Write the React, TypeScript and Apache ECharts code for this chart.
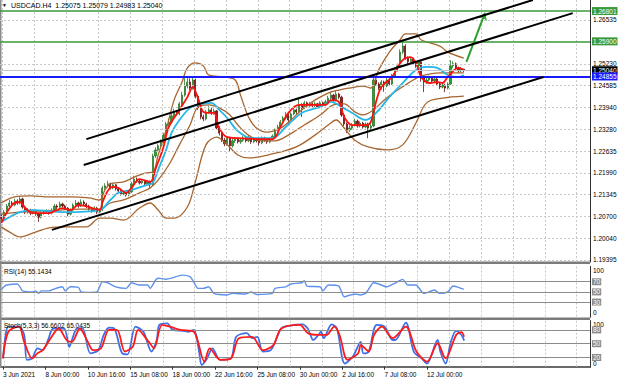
import React, { useEffect, useRef } from "react";
import * as echarts from "echarts";

const FONT = "Liberation Sans";
const SLOTS = 222;
const tickLabels = ["3 Jun 2021", "8 Jun 00:00", "10 Jun 16:00", "15 Jun 08:00", "18 Jun 00:00", "22 Jun 16:00", "25 Jun 08:00", "30 Jun 00:00", "2 Jul 16:00", "7 Jul 08:00", "12 Jul 00:00"];

const firstOpen = 1.207;
const closes = [
  1.2064, 1.2082, 1.21, 1.2109, 1.2103, 1.2115, 1.2109, 1.2121, 1.2097, 1.2082,
  1.2088, 1.2079, 1.2085, 1.2076, 1.2067, 1.2079, 1.2082, 1.2085, 1.2079, 1.2088,
  1.21, 1.2097, 1.2106, 1.21, 1.2094, 1.2076, 1.2088, 1.2103, 1.2109, 1.21,
  1.2112, 1.2106, 1.21, 1.2091, 1.2085, 1.2094, 1.2082, 1.2088, 1.2154, 1.216,
  1.2166, 1.2154, 1.2163, 1.2151, 1.2145, 1.2136, 1.2139, 1.2133, 1.2142, 1.2166,
  1.218, 1.2174, 1.2169, 1.2174, 1.2166, 1.2172, 1.2163, 1.2249, 1.2267, 1.2279,
  1.2291, 1.2311, 1.2344, 1.235, 1.2368, 1.238, 1.2374, 1.2404, 1.243, 1.2457,
  1.2469, 1.2451, 1.2475, 1.2427, 1.2392, 1.2365, 1.2359, 1.238, 1.2386, 1.2377,
  1.2383, 1.2332, 1.2317, 1.2296, 1.2285, 1.2302, 1.2279, 1.2294, 1.2299, 1.2291,
  1.2296, 1.2302, 1.2294, 1.2305, 1.2291, 1.2299, 1.2294, 1.2288, 1.2302, 1.2296,
  1.2291, 1.2299, 1.2308, 1.2326, 1.2335, 1.235, 1.2362, 1.2371, 1.2356, 1.2374,
  1.2386, 1.238, 1.2401, 1.2392, 1.2407, 1.2398, 1.2404, 1.2398, 1.2404, 1.2395,
  1.2407, 1.2401, 1.241, 1.2421, 1.243, 1.2415, 1.2433, 1.2424, 1.2371, 1.2344,
  1.2326, 1.2332, 1.2341, 1.2353, 1.2338, 1.2347, 1.2335, 1.2344, 1.2332, 1.2338,
  1.2475, 1.2463, 1.2451, 1.2469, 1.2457, 1.2475, 1.2463, 1.2487, 1.2505, 1.2517,
  1.2558, 1.2576, 1.254, 1.2529, 1.2537, 1.2526, 1.2517, 1.2529, 1.2481, 1.2469,
  1.2475, 1.2481, 1.2472, 1.2478, 1.2463, 1.2454, 1.246, 1.2451, 1.2463, 1.2517,
  1.2523, 1.2511, 1.2502, 1.25075, 1.2504,
];
const highs = [
  1.2076, 1.2088, 1.2106, 1.2118, 1.2115, 1.2122, 1.212, 1.2128, 1.2125, 1.2101,
  1.2094, 1.2092, 1.209, 1.2089, 1.208, 1.2084, 1.2088, 1.2091, 1.2089, 1.2093,
  1.2106, 1.2105, 1.2113, 1.211, 1.2104, 1.2097, 1.2093, 1.2108, 1.2118, 1.2113,
  1.212, 1.2117, 1.211, 1.2104, 1.2096, 1.2099, 1.2098, 1.2093, 1.216, 1.2168,
  1.2175, 1.217, 1.2169, 1.2166, 1.2155, 1.2149, 1.2145, 1.2143, 1.2147, 1.2172,
  1.219, 1.2185, 1.2178, 1.218, 1.2178, 1.2177, 1.2176, 1.2256, 1.2275, 1.2286,
  1.2298, 1.2318, 1.235, 1.236, 1.2376, 1.2389, 1.2386, 1.241, 1.244, 1.2484,
  1.2487, 1.248, 1.2486, 1.2479, 1.2432, 1.2396, 1.2372, 1.2386, 1.2398, 1.2393,
  1.239, 1.2386, 1.2338, 1.2322, 1.2303, 1.2308, 1.2306, 1.23, 1.2305, 1.2304,
  1.2302, 1.2308, 1.2306, 1.2311, 1.2309, 1.2304, 1.2303, 1.2298, 1.2307, 1.2306,
  1.23, 1.2304, 1.2313, 1.2331, 1.2342, 1.2356, 1.2368, 1.238, 1.2375, 1.2379,
  1.2394, 1.239, 1.242, 1.2406, 1.2413, 1.2411, 1.241, 1.2408, 1.241, 1.2407,
  1.2412, 1.2411, 1.2416, 1.2428, 1.244, 1.2434, 1.2443, 1.2437, 1.2428, 1.2376,
  1.2349, 1.234, 1.2347, 1.236, 1.2357, 1.2352, 1.2351, 1.2349, 1.2348, 1.2345,
  1.2482, 1.248, 1.2468, 1.2475, 1.2473, 1.2481, 1.248, 1.2493, 1.2512, 1.2524,
  1.2566, 1.2588, 1.2581, 1.2545, 1.2543, 1.2541, 1.253, 1.2534, 1.2532, 1.2486,
  1.2482, 1.2488, 1.2485, 1.2484, 1.2482, 1.2467, 1.2465, 1.2464, 1.2468, 1.2534,
  1.2531, 1.2527, 1.2515, 1.2513, 1.25079,
];
const lows = [
  1.2055, 1.206, 1.2078, 1.2095, 1.2097, 1.2099, 1.2104, 1.2105, 1.2092, 1.2076,
  1.2077, 1.2073, 1.2075, 1.2071, 1.2053, 1.2063, 1.2074, 1.2078, 1.2074, 1.2075,
  1.2085, 1.2091, 1.2093, 1.2096, 1.2089, 1.207, 1.2072, 1.2085, 1.2099, 1.2095,
  1.2097, 1.2101, 1.2094, 1.2086, 1.208, 1.2081, 1.2076, 1.2078, 1.2085, 1.2148,
  1.2155, 1.2149, 1.215, 1.2146, 1.214, 1.2131, 1.2132, 1.2128, 1.2129, 1.2139,
  1.2162, 1.2169, 1.2164, 1.2165, 1.2161, 1.2162, 1.2155, 1.216, 1.2243, 1.226,
  1.2272, 1.2286, 1.2306, 1.2338, 1.2344, 1.2362, 1.2368, 1.237, 1.2398, 1.2425,
  1.245, 1.2445, 1.2446, 1.242, 1.2386, 1.2358, 1.2352, 1.2355, 1.2375, 1.2371,
  1.2372, 1.2326, 1.231, 1.229, 1.2278, 1.228, 1.2262, 1.2274, 1.2288, 1.2286,
  1.2285, 1.2291, 1.2289, 1.229, 1.2285, 1.2287, 1.2289, 1.228, 1.2284, 1.2291,
  1.2285, 1.2287, 1.2295, 1.2304, 1.2321, 1.2331, 1.2345, 1.2357, 1.234, 1.2352,
  1.237, 1.2374, 1.2377, 1.2365, 1.2388, 1.2393, 1.2393, 1.2392, 1.2394, 1.239,
  1.2391, 1.2396, 1.2397, 1.2406, 1.2416, 1.241, 1.2411, 1.2418, 1.2365, 1.2338,
  1.2317, 1.232, 1.2327, 1.2337, 1.2333, 1.2334, 1.233, 1.2331, 1.2302, 1.2325,
  1.2335, 1.2458, 1.2445, 1.2446, 1.244, 1.2453, 1.2457, 1.246, 1.2482, 1.25,
  1.2513, 1.2552, 1.2535, 1.2523, 1.2525, 1.252, 1.2511, 1.2513, 1.247, 1.2439,
  1.2463, 1.247, 1.2467, 1.2468, 1.2457, 1.2448, 1.245, 1.2439, 1.2447, 1.246,
  1.251, 1.2505, 1.2496, 1.2498, 1.24983,
];

const bbUpper = [[0,1.2109],[5,1.2127],[11,1.213],[18,1.2127],[26,1.2127],[33,1.2124],[37,1.2118],[39,1.2148],[41,1.2166],[46,1.2172],[50,1.2186],[54,1.2198],[57,1.2201],[59,1.2252],[62,1.2326],[65,1.2415],[68,1.2469],[70,1.2511],[73,1.2526],[76,1.2517],[78,1.249],[84,1.2484],[88,1.2475],[90,1.243],[93,1.2365],[96,1.2332],[100,1.232],[105,1.2332],[109,1.2356],[113,1.2386],[118,1.2415],[123,1.2436],[127,1.2445],[131,1.2451],[136,1.2457],[139,1.2451],[142,1.2505],[146,1.2558],[150,1.2594],[152,1.2612],[156,1.2612],[158,1.2594],[165,1.2576],[168,1.2558],[174,1.254]];
const bbMiddle = [[0,1.2076],[7,1.2082],[14,1.2085],[22,1.2088],[29,1.2091],[37,1.2091],[41,1.2109],[46,1.2118],[52,1.2139],[56,1.2154],[59,1.2177],[63,1.2222],[67,1.2282],[71,1.2341],[74,1.2395],[78,1.2401],[82,1.2392],[86,1.2371],[89,1.2341],[93,1.2311],[98,1.2294],[103,1.2294],[108,1.2311],[114,1.2341],[120,1.2371],[125,1.2401],[129,1.2404],[133,1.238],[136,1.2371],[140,1.2386],[144,1.2415],[148,1.2439],[152,1.246],[155,1.2475],[158,1.2487],[165,1.2496],[170,1.2496],[174,1.2496]];
const bbLower = [[0,1.2038],[3,1.2023],[7,1.2008],[12,1.202],[18,1.2035],[24,1.2038],[32,1.2038],[37,1.2064],[41,1.2064],[46,1.2058],[52,1.2094],[56,1.2109],[59,1.2088],[62,1.2064],[65,1.2064],[70,1.2097],[73,1.2172],[77,1.2282],[81,1.2305],[85,1.2282],[89,1.2252],[93,1.2243],[102,1.2255],[111,1.2276],[118,1.2311],[123,1.2341],[126,1.2356],[129,1.2332],[133,1.2296],[138,1.2276],[145,1.2267],[151,1.2282],[156,1.2347],[160,1.2407],[166,1.2421],[174,1.2427]];
const fastMA = [[0,1.205],[4,1.2103],[7,1.2112],[9,1.2094],[12,1.2079],[18,1.2079],[23,1.2094],[26,1.2088],[29,1.2103],[33,1.2097],[37,1.2088],[38,1.211],[40,1.2145],[42,1.2157],[44,1.2154],[47,1.2139],[49,1.2154],[52,1.218],[56,1.2172],[58,1.221],[61,1.2275],[63,1.2335],[67,1.2386],[70,1.2424],[72,1.2454],[74,1.2421],[76,1.238],[78,1.2377],[80,1.2377],[82,1.2332],[85,1.2305],[89,1.2302],[102,1.2299],[105,1.2335],[108,1.2377],[112,1.2401],[122,1.2401],[124,1.2415],[127,1.241],[129,1.2365],[132,1.2341],[137,1.2341],[139,1.235],[141,1.241],[143,1.2454],[147,1.2484],[151,1.2534],[154,1.2543],[156,1.2526],[158,1.2484],[161,1.2466],[164,1.2469],[166,1.2466],[168,1.2484],[172,1.2511],[174,1.2505]];
const slowMA = [[0,1.2053],[7,1.2082],[12,1.2088],[24,1.2082],[37,1.2088],[41,1.2118],[44,1.2139],[49,1.2148],[55,1.2163],[57,1.2169],[59,1.2207],[62,1.2267],[64,1.2317],[67,1.2356],[71,1.2392],[74,1.2401],[79,1.2407],[82,1.2386],[85,1.2362],[89,1.2323],[94,1.2302],[102,1.2302],[107,1.2335],[113,1.2377],[120,1.2395],[124,1.241],[128,1.2395],[132,1.2377],[137,1.2356],[141,1.2377],[146,1.2424],[151,1.2466],[156,1.2505],[160,1.2514],[164,1.2511],[168,1.249],[172,1.2484],[174,1.249]];

const channelUpper = [[32,1.2299],[200,1.2713]];
const channelMiddle = [[31,1.2222],[215,1.2674]];
const channelLower = [[19,1.2029],[204,1.2484]];
const arrowPath = [[175,1.2529],[182,1.2675]];

const priceTicks = [1.26535, 1.2523, 1.24585, 1.2394, 1.2328, 1.22635, 1.2199, 1.21345, 1.207, 1.2004, 1.19395];
const resistanceLevels = [1.26801, 1.259];
const supportLevel = 1.24855;
const bidPrice = 1.2504;
const title = "USDCAD.H4  1.25075 1.25079 1.24983 1.25040";

const rsiValues = [[0,54],[1,60],[2,63.5],[6,65.5],[7,60],[8,52],[12,50],[13,52],[14,47],[15,52],[18,52],[19,54],[23,60],[24,52],[26,60],[29,59],[30,50],[32,49],[36,50],[38,70],[40,68],[43,60],[47,57],[49,68],[52,63.5],[55,63.5],[56,57],[58,73],[59,77],[62,75],[64,77],[68,83],[71,80],[72,73],[74,57],[76,57],[78,60],[80,47],[85,44],[87,47],[92,46],[94,50],[96,45],[102,47],[103,57],[107,60],[109,65.5],[113,68],[114,72],[115,61.5],[120,60],[121,52],[123,63.5],[127,61.5],[129,40.5],[133,46],[135,44],[137,47],[138,53.6],[140,68],[142,65.5],[145,60],[148,67],[151,74.7],[153,63.5],[156,63.5],[159,47],[163,53.6],[165,47],[168,50],[170,61.5],[172,59],[174,55.1434]];
const rsiLevels = [70, 50, 30];
const stochK = [[0,18],[1,69],[2,87],[6,87],[8,69],[9,15],[11,18],[13,40],[15,36],[17,58],[19,83],[23,83],[25,43],[26,58],[28,83],[30,83],[33,29],[36,36],[38,69],[40,85],[42,83],[45,29],[47,27],[50,87],[53,76],[56,33],[58,58],[59,91],[62,94],[64,80],[68,78],[70,76],[72,80],[73,65],[74,33],[75,4],[77,18],[79,40],[82,15],[86,18],[88,65],[92,73],[94,62],[96,65],[98,33],[101,36],[105,83],[108,89],[113,92],[115,83],[116,69],[117,58],[119,69],[120,76],[121,62],[124,92],[126,83],[129,7],[132,22],[135,54],[136,29],[138,33],[141,91],[144,87],[147,58],[148,58],[152,96],[155,33],[158,18],[160,7],[164,58],[165,33],[167,7],[169,54],[171,78],[173,69],[174,56.6602]];
const stochD = [[0,18],[2,76],[6,87],[8,54],[11,18],[13,29],[15,36],[18,62],[21,83],[24,58],[26,54],[29,83],[32,54],[34,36],[37,40],[40,80],[43,80],[46,33],[49,44],[51,80],[55,54],[57,40],[60,91],[63,87],[67,80],[72,76],[76,11],[78,40],[82,15],[86,18],[89,62],[94,65],[98,36],[102,47],[105,83],[112,91],[115,73],[119,69],[122,69],[125,87],[127,69],[130,15],[134,29],[135,47],[138,33],[140,69],[143,87],[147,62],[152,87],[156,33],[160,11],[164,51],[167,18],[171,69],[173,75],[174,65.0435]];
const stochLevels = [80, 50, 20];

export default function App() {
  const ref = useRef<HTMLDivElement>(null);
  useEffect(() => {
    const chart = echarts.init(ref.current as HTMLDivElement, null, { renderer: "svg" });
    const categories = Array.from({ length: SLOTS }, (_, i) => String(i));
    const candleData = closes.map((c, i) => [i === 0 ? firstOpen : closes[i - 1], c, lows[i], highs[i]]);
    const labelIdx = (i: number) => i % 16 === 0 && i / 16 < tickLabels.length;
    const gridSplit = { show: true, interval: (i: number) => i % 12 === 1, lineStyle: { color: "#c8c8c8", type: [2, 2], width: 1 } };
    const mkX = (gridIndex: number, labels: boolean) => ({
      type: "category", gridIndex, data: categories, boundaryGap: true,
      axisLine: { show: false },
      axisTick: labels ? { show: true, alignWithLabel: true, interval: labelIdx, length: 3, lineStyle: { color: "#333" } } : { show: false },
      axisLabel: labels ? {
        show: true, interval: labelIdx, align: "left", margin: 4, fontSize: 6.5, color: "#000", fontFamily: FONT,
        formatter: (v: string) => { const i = Number(v); return labelIdx(i) ? tickLabels[i / 16] : ""; },
      } : { show: false },
      splitLine: gridSplit,
    });
    const txt = { fontSize: 6.5, fontFamily: FONT, color: "#000" };
    const levelLabel = (v: number, bg: string) => ({ show: true, position: "end", distance: 2, formatter: v.toFixed(5), ...txt, color: "#fff", backgroundColor: bg, padding: [1, 1, 0, 1] });
    const oscLevel = (v: number) => ({
      yAxis: v, lineStyle: { color: "#8c8c8c", width: 1, type: "solid" },
      label: { show: true, position: "end", distance: 2, formatter: String(v), ...txt, color: "#fff", backgroundColor: "#8c8c8c", padding: [0, 1] },
    });
    const line = (data: number[][], color: string, width: number, xi = 0, z = 4, smooth: number | boolean = 0.35) => ({
      type: "line", xAxisIndex: xi, yAxisIndex: xi, data, symbol: "none", smooth, z,
      lineStyle: { color, width }, silent: true,
    });
    const mk = { silent: true, symbol: ["none", "none"], animation: false, precision: 5 };
    const option: any = {
      animation: false,
      backgroundColor: "#fff",
      title: [
        { text: "▼", left: 2, top: 2, padding: 0, textStyle: { fontSize: 5, color: "#000", fontWeight: "normal" } },
        { text: title, left: 11, top: 1.5, padding: 0, textStyle: { ...txt, fontSize: 7, fontWeight: "normal" } },
        { text: "RSI(14) 55.1434", left: 4, top: 267.5, padding: 0, textStyle: { ...txt, fontWeight: "normal" } },
        { text: "Stoch(5,3,3) 56.6602 65.0435", left: 4, top: 322, padding: 0, textStyle: { ...txt, fontWeight: "normal" } },
      ],
      grid: [
        { left: 0, right: 30, top: 0, height: 262 },
        { left: 0, right: 30, top: 266.5, height: 50.8 },
        { left: 0, right: 30, top: 320.7, height: 46 },
      ],
      xAxis: [mkX(0, false), mkX(1, false), mkX(2, true)],
      yAxis: [
        { type: "value", gridIndex: 0, min: 1.19335, max: 1.2713, position: "right", axisLine: { show: true, lineStyle: { color: "#333" } }, axisTick: { show: false }, axisLabel: { show: false }, splitLine: { show: false } },
        {
          type: "value", gridIndex: 1, min: 0, max: 100, interval: 100, position: "right",
          axisLine: { show: true, lineStyle: { color: "#333" } }, axisTick: { show: false }, splitLine: { show: false },
          axisLabel: { show: true, margin: 3, formatter: (v: number) => (v === 100 ? "{t|100}" : "{b|0}"), rich: { t: { ...txt, padding: [7, 0, 0, 0] }, b: { ...txt, padding: [0, 0, 9, 0] } } },
        },
        {
          type: "value", gridIndex: 2, min: 0, max: 100, interval: 100, position: "right",
          axisLine: { show: true, lineStyle: { color: "#333" } }, axisTick: { show: false }, splitLine: { show: false },
          axisLabel: { show: true, margin: 3, formatter: (v: number) => (v === 100 ? "{t|100}" : "{b|0}"), rich: { t: { ...txt, padding: [7, 0, 0, 0] }, b: { ...txt, padding: [0, 0, 7, 0] } } },
        },
      ],
      series: [
        {
          type: "line", xAxisIndex: 0, yAxisIndex: 0, data: [], z: 1, silent: true,
          markLine: {
            ...mk,
            data: priceTicks.map((v) => ({ yAxis: v, lineStyle: { color: "#c8c8c8", type: [2, 2], width: 1 }, label: { show: true, position: "end", distance: 3, formatter: v.toFixed(5), ...txt } })),
          },
        },
        {
          type: "line", xAxisIndex: 0, yAxisIndex: 0, data: [], z: 2, silent: true,
          markLine: { ...mk, data: [{ yAxis: bidPrice, lineStyle: { color: "#c4c4c4", width: 1, type: "solid" }, label: levelLabel(bidPrice, "#000") }] },
        },
        {
          type: "candlestick", xAxisIndex: 0, yAxisIndex: 0, data: candleData, barWidth: 1.7, z: 3, silent: true,
          itemStyle: { color: "#2ea02e", borderColor: "#2a7a2a", color0: "#9a1a1a", borderColor0: "#6a1010", borderWidth: 0.8 },
        },
        line(bbUpper, "#a8652e", 1.3),
        line(bbMiddle, "#a8652e", 1.3),
        line(bbLower, "#a8652e", 1.3),
        line(slowMA, "#27b6e8", 1.8),
        line(fastMA, "#ff1010", 1.8),
        line(channelUpper, "#000", 2, 0, 6, false),
        line(channelMiddle, "#000", 2, 0, 6, false),
        line(channelLower, "#000", 2, 0, 6, false),
        {
          type: "line", xAxisIndex: 0, yAxisIndex: 0, data: [], z: 7, silent: true,
          markLine: {
            ...mk,
            data: [
              ...resistanceLevels.map((v) => ({ yAxis: v, lineStyle: { color: "#3a9a3a", width: 1.5, type: "solid" }, label: levelLabel(v, "#3a9a3a") })),
              { yAxis: supportLevel, lineStyle: { color: "#1a1aff", width: 2, type: "solid" }, label: levelLabel(supportLevel, "#1a1aff") },
            ],
          },
        },
        {
          type: "line", xAxisIndex: 0, yAxisIndex: 0, data: [], z: 8, silent: true,
          markLine: {
            ...mk, symbol: ["none", "arrow"], symbolSize: 7,
            lineStyle: { color: "#2e9e2e", width: 2, type: "solid" }, label: { show: false },
            data: [[{ coord: arrowPath[0] }, { coord: arrowPath[1] }]],
          },
        },
        {
          ...line(rsiValues, "#5f90ef", 1.4, 1, 4, 0.2),
          markLine: { ...mk, data: rsiLevels.map(oscLevel) },
        },
        {
          ...line(stochK, "#3f6fe6", 1.8, 2, 4, 0.3),
          markLine: { ...mk, data: stochLevels.map(oscLevel) },
        },
        line(stochD, "#ff1a1a", 1.8, 2, 5, 0.3),
      ],
      graphic: [
        { type: "rect", shape: { x: 0, y: 261.5, width: 590, height: 2.5 }, style: { fill: "#7c7c7c" }, silent: true },
        { type: "rect", shape: { x: 0, y: 317.5, width: 590, height: 2.5 }, style: { fill: "#7c7c7c" }, silent: true },
        { type: "rect", shape: { x: 0, y: 366, width: 591, height: 2 }, style: { fill: "#6a6a6a" }, silent: true },
        { type: "rect", shape: { x: 0, y: 0, width: 1.5, height: 368 }, style: { fill: "#8a8a8a" }, silent: true },
      ],
    };
    chart.setOption(option);
    return () => chart.dispose();
  }, []);
  return <div ref={ref} style={{ position: "absolute", left: 0, top: 0, width: 620, height: 383, background: "#fff" }} />;
}
